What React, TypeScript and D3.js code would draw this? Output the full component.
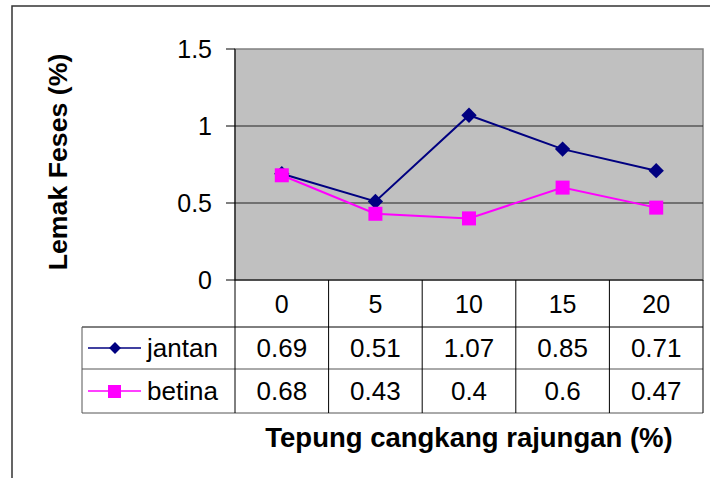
import React from 'react';
import * as d3 from 'd3';

const categories = ['0', '5', '10', '15', '20'];
const seriesNames = ['jantan', 'betina'];
const jantan = [0.69, 0.51, 1.07, 0.85, 0.71];
const betina = [0.68, 0.43, 0.4, 0.6, 0.47];
const yTicks = [0, 0.5, 1, 1.5];
const yTickLabels = ['0', '0.5', '1', '1.5'];
const seriesColors = ['#000080', '#ff00ff'];

const W = 710;
const H = 478;
const plot = { left: 235, top: 49, right: 703, bottom: 280 };
const rowH = [47, 42, 44];
const legendLeft = 82;
const font = 'Liberation Sans, Arial, sans-serif';

const App = () => {
    const x = d3.scaleBand().domain(categories).range([plot.left, plot.right]);
    const y = d3.scaleLinear().domain([0, 1.5]).range([plot.bottom, plot.top]);
    const line = d3.line<number>()
        .x((d, i) => (x(categories[i]) as number) + x.bandwidth() / 2)
        .y(d => y(d));

    const values = [jantan, betina];
    const row1 = plot.bottom + rowH[0];
    const row2 = row1 + rowH[1];
    const row3 = row2 + rowH[2];
    const rowTops = [row1, row2];

    const diamond = d3.symbol().type(d3.symbolDiamond2).size(150)();

    const marker = (s, cx, cy, key) => s === 0
        ? <path key={key} d={diamond} transform={`translate(${cx},${cy})`} fill={seriesColors[0]} />
        : <rect key={key} x={cx - 7} y={cy - 7} width={14} height={14} fill={seriesColors[1]} />;

    return (
        <svg width={W} height={H} style={{ position: 'absolute', left: 0, top: 0, fontFamily: font }}>
            <rect x={0} y={0} width={W} height={H} fill="#fff" />
            <rect x={12} y={6} width={W + 20} height={H + 20} fill="none" stroke="#333" strokeWidth={1.5} />

            {/* plot area */}
            <rect x={plot.left} y={plot.top} width={plot.right - plot.left}
                height={plot.bottom - plot.top} fill="#c0c0c0" stroke="#808080" strokeWidth={1.5} />
            {yTicks.filter(t => t > 0 && t < 1.5).map(t => (
                <line key={t} x1={plot.left} x2={plot.right} y1={y(t)} y2={y(t)} stroke="#222" strokeWidth={1} />
            ))}
            <line x1={plot.left} x2={plot.left} y1={plot.top} y2={plot.bottom} stroke="#000" />
            {yTicks.map((t, i) => (
                <g key={t}>
                    <line x1={plot.left - 9} x2={plot.left} y1={y(t)} y2={y(t)} stroke="#000" />
                    <text x={212} y={y(t)} dy="0.36em" textAnchor="end" fontSize={25}>{yTickLabels[i]}</text>
                </g>
            ))}

            {values.map((v, s) => (
                <path key={s} d={line(v) as string} fill="none" stroke={seriesColors[s]} strokeWidth={2} />
            ))}
            {values.map((v, s) => v.map((d, i) =>
                marker(s, (x(categories[i]) as number) + x.bandwidth() / 2, y(d), `${s}-${i}`)
            ))}

            {/* data table */}
            <g stroke="#000" strokeWidth={1}>
                <line x1={plot.left} x2={plot.right} y1={plot.bottom} y2={plot.bottom} />
                <line x1={legendLeft} x2={plot.right} y1={row1} y2={row1} />
                <line x1={legendLeft} x2={plot.right} y1={row2} y2={row2} stroke="#555" />
                <line x1={legendLeft} x2={plot.right} y1={row3} y2={row3} stroke="#555" />
                <line x1={legendLeft} x2={legendLeft} y1={row1} y2={row3} stroke="#555" />
                {categories.map(c => (
                    <line key={c} x1={x(c)} x2={x(c)} y1={plot.bottom} y2={row3} />
                ))}
                <line x1={plot.right} x2={plot.right} y1={plot.bottom} y2={row3} />
            </g>
            {categories.map(c => (
                <text key={c} x={(x(c) as number) + x.bandwidth() / 2} y={plot.bottom + rowH[0] / 2}
                    dy="0.36em" textAnchor="middle" fontSize={25}>{c}</text>
            ))}
            {values.map((v, s) => (
                <g key={s}>
                    <line x1={88} x2={141} y1={rowTops[s] + rowH[s + 1] / 2} y2={rowTops[s] + rowH[s + 1] / 2}
                        stroke={seriesColors[s]} strokeWidth={1.5} />
                    {s === 0
                        ? <path d={d3.symbol().type(d3.symbolDiamond2).size(90)()}
                            transform={`translate(115,${rowTops[s] + rowH[s + 1] / 2})`} fill={seriesColors[0]} />
                        : <rect x={108} y={rowTops[s] + rowH[s + 1] / 2 - 6} width={13} height={13} fill={seriesColors[1]} />}
                    <text x={147} y={rowTops[s] + rowH[s + 1] / 2} dy="0.36em" fontSize={26}>{seriesNames[s]}</text>
                    {v.map((d, i) => (
                        <text key={i} x={(x(categories[i]) as number) + x.bandwidth() / 2}
                            y={rowTops[s] + rowH[s + 1] / 2} dy="0.36em" textAnchor="middle" fontSize={26}>{d}</text>
                    ))}
                </g>
            ))}

            <text x={469} y={447} textAnchor="middle" fontSize={27.5} fontWeight="bold">Tepung cangkang rajungan (%)</text>
            <text transform="translate(67,162) rotate(-90)" textAnchor="middle" fontSize={26.7} fontWeight="bold">Lemak Feses (%)</text>
        </svg>
    );
};

export default App;
